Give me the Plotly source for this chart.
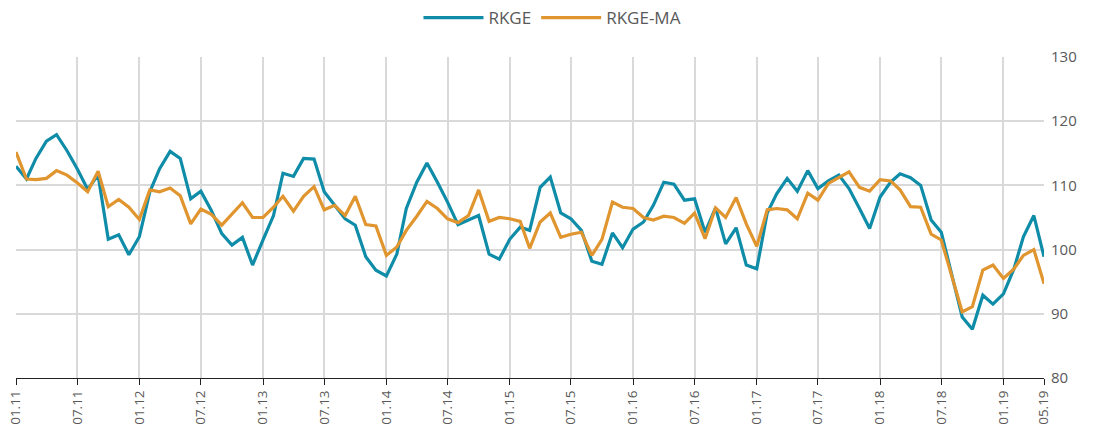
import pandas as pd
import plotly.graph_objects as go

start_month = "2011-01-01"
n_months = 101

rkge = [
    113.0, 111.0, 114.2, 116.9, 117.9, 115.4, 112.6, 109.4, 111.6, 101.6,
    102.3, 99.2, 102.0, 109.0, 112.6, 115.3, 114.2, 107.9, 109.1, 106.1,
    102.5, 100.7, 101.9, 97.6, 101.5, 105.3, 111.9, 111.4, 114.2, 114.1,
    109.0, 106.9, 104.8, 103.8, 98.9, 96.8, 95.9, 99.3, 106.4, 110.5,
    113.5, 110.5, 107.4, 103.9, 104.6, 105.3, 99.3, 98.5, 101.6, 103.5,
    103.0, 109.7, 111.3, 105.7, 104.8, 103.0, 98.2, 97.7, 102.6, 100.3,
    103.2, 104.3, 106.9, 110.5, 110.2, 107.7, 107.9, 102.7, 106.5, 100.9,
    103.4, 97.6, 97.0, 105.7, 108.7, 111.1, 109.1, 112.3, 109.5, 110.7,
    111.6, 109.5, 106.4, 103.3, 108.2, 110.5, 111.8, 111.2, 110.0, 104.6,
    102.7, 96.3, 89.5, 87.6, 92.9, 91.5, 93.1, 97.0, 102.0, 105.3,
    98.9,
]

rkge_ma = [
    115.2, 111.0, 110.9, 111.1, 112.3, 111.6, 110.4, 109.0, 112.2, 106.7,
    107.8, 106.6, 104.7, 109.3, 109.0, 109.6, 108.4, 104.0, 106.3, 105.5,
    103.8, 105.6, 107.3, 105.0, 105.0, 106.6, 108.3, 106.0, 108.3, 109.8,
    106.2, 106.9, 105.3, 108.3, 103.9, 103.7, 99.1, 100.4, 103.0, 105.2,
    107.5, 106.4, 104.8, 104.2, 105.3, 109.3, 104.4, 105.0, 104.8, 104.4,
    100.2, 104.3, 105.7, 101.9, 102.4, 102.7, 99.1, 101.6, 107.4, 106.6,
    106.4, 105.0, 104.6, 105.2, 105.0, 104.1, 105.7, 101.7, 106.5, 105.0,
    108.1, 104.0, 100.5, 106.2, 106.4, 106.2, 104.8, 108.8, 107.7, 110.3,
    111.2, 112.1, 109.7, 109.1, 110.9, 110.7, 109.3, 106.7, 106.6, 102.4,
    101.5, 96.0, 90.3, 91.1, 96.8, 97.6, 95.5, 97.0, 99.1, 100.0,
    94.7,
]

tick_dates = [
    "2011-01-01", "2011-07-01", "2012-01-01", "2012-07-01", "2013-01-01",
    "2013-07-01", "2014-01-01", "2014-07-01", "2015-01-01", "2015-07-01",
    "2016-01-01", "2016-07-01", "2017-01-01", "2017-07-01", "2018-01-01",
    "2018-07-01", "2019-01-01", "2019-05-01",
]
tick_labels = [
    "01.11", "07.11", "01.12", "07.12", "01.13", "07.13", "01.14", "07.14",
    "01.15", "07.15", "01.16", "07.16", "01.17", "07.17", "01.18", "07.18",
    "01.19", "05.19",
]
y_ticks = [80, 90, 100, 110, 120, 130]

dates = pd.date_range(start_month, periods=n_months, freq="MS")

BLUE = "#0f8ca8"
ORANGE = "#e0952f"
GRID = "#d9d9d9"
TEXT = "#595959"
FONT = "Open Sans, Noto Sans, sans-serif"

fig = go.Figure()
fig.add_trace(go.Scatter(x=dates, y=rkge, name="RKGE", mode="lines",
                         line=dict(color=BLUE, width=3.2)))
fig.add_trace(go.Scatter(x=dates, y=rkge_ma, name="RKGE-MA", mode="lines",
                         line=dict(color=ORANGE, width=3.2)))

fig.update_layout(
    width=1094, height=441,
    margin=dict(l=16, r=50, t=57, b=63, autoexpand=False),
    paper_bgcolor="white", plot_bgcolor="white",
    font=dict(family=FONT, size=14, color=TEXT),
    showlegend=True,
    legend=dict(orientation="h", xref="container", yref="container",
                x=0.505, xanchor="center", y=1.0, yanchor="top",
                font=dict(size=17, color=TEXT), itemwidth=60,
                traceorder="normal"),
)
fig.update_xaxes(
    type="date", automargin=False,
    range=[dates[0], dates[-1]],
    tickmode="array", tickvals=tick_dates, ticktext=tick_labels,
    tickangle=-90, tickfont=dict(size=13.5, color=TEXT),
    showgrid=True, gridcolor=GRID, gridwidth=1.5,
    showline=True, linecolor="#222222", linewidth=1,
    ticks="outside", ticklen=6, tickcolor="#222222",
    zeroline=False,
)
fig.update_yaxes(
    side="right", range=[80, 130], automargin=False,
    tickmode="array", tickvals=y_ticks,
    tickfont=dict(size=15, color=TEXT),
    showgrid=True, gridcolor=GRID, gridwidth=1.5,
    showline=False, zeroline=False, ticks="", ticklabelstandoff=6,
)

fig.write_html(
    "out.html",
    config={"displayModeBar": False},
    post_script="document.body.style.margin='0';document.body.style.overflow='hidden';",
)
